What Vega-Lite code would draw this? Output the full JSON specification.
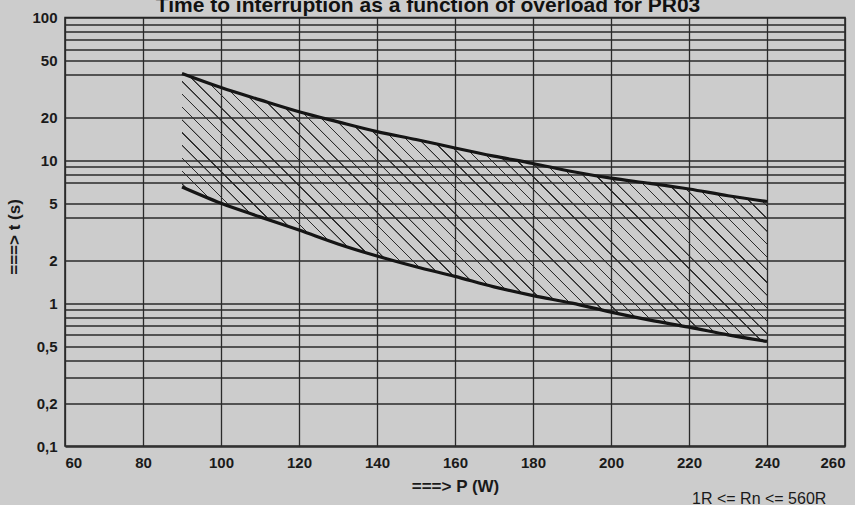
{
  "$schema": "https://vega.github.io/schema/vega-lite/v6.json",
  "width": 780,
  "height": 428.5,
  "autosize": {"type": "none"},
  "padding": {"left": 65, "top": 17.5, "right": 10, "bottom": 59},
  "background": "#cccccc",
  "title": {
    "text": "Time to interruption as a function of overload for PR03",
    "font": "Liberation Sans",
    "fontSize": 21,
    "fontWeight": "bold",
    "color": "#111111",
    "anchor": "middle",
    "frame": "group",
    "dx": -27,
    "dy": 5,
    "offset": 0
  },
  "config": {
    "view": {"stroke": "#1e1e1e", "strokeWidth": 1.5},
    "axis": {
      "domain": false,
      "ticks": false,
      "grid": true,
      "gridColor": "#2a2a2a",
      "gridWidth": 1.3,
      "gridOpacity": 1,
      "labelFont": "Liberation Sans",
      "labelFontSize": 15,
      "labelFontWeight": "bold",
      "labelColor": "#1a1a1a",
      "titleFont": "Liberation Sans",
      "titleFontSize": 17,
      "titleFontWeight": "bold",
      "titleColor": "#1a1a1a"
    }
  },
  "data": {
    "values": [
      {"P": 90, "upper": 40.5, "lower": 6.5},
      {"P": 100, "upper": 32.3, "lower": 5.0},
      {"P": 110, "upper": 26.5, "lower": 4.02},
      {"P": 120, "upper": 21.9, "lower": 3.25},
      {"P": 130, "upper": 18.6, "lower": 2.6},
      {"P": 140, "upper": 15.9, "lower": 2.14},
      {"P": 150, "upper": 14.0, "lower": 1.8},
      {"P": 160, "upper": 12.2, "lower": 1.54},
      {"P": 170, "upper": 10.7, "lower": 1.3},
      {"P": 180, "upper": 9.5, "lower": 1.13},
      {"P": 190, "upper": 8.35, "lower": 1.0},
      {"P": 200, "upper": 7.5, "lower": 0.865},
      {"P": 210, "upper": 6.9, "lower": 0.76},
      {"P": 220, "upper": 6.3, "lower": 0.68},
      {"P": 230, "upper": 5.65, "lower": 0.6},
      {"P": 240, "upper": 5.15, "lower": 0.54}
    ]
  },
  "layer": [
    {
      "encoding": {
        "x": {
          "field": "P", "type": "quantitative",
          "scale": {"domain": [60, 260], "nice": false, "zero": false},
          "axis": {
            "title": "===> P (W)",
            "values": [60,70,80,90,100,110,120,130,140,150,160,170,180,190,200,210,220,230,240,250,260],
            "labelExpr": "datum.value % 20 == 0 ? '' + datum.value : ''",
            "labelPadding": 9,
            "titlePadding": 8
          }
        },
        "y": {
          "field": "upper", "type": "quantitative",
          "scale": {"type": "log", "domain": [0.1, 100], "nice": false},
          "axis": {
            "title": "===> t (s)",
            "values": [0.1,0.2,0.3,0.4,0.5,0.6,0.7,0.8,0.9,1,2,4,5,7,8,9,10,20,40,50,60,70,80,90,100],
            "labelExpr": "datum.value == 0.1 ? '0,1' : datum.value == 0.2 ? '0,2' : datum.value == 0.5 ? '0,5' : (datum.value == 1 || datum.value == 2 || datum.value == 5 || datum.value == 10 || datum.value == 20 || datum.value == 50 || datum.value == 100) ? '' + datum.value : ''",
            "labelPadding": 8,
            "titlePadding": 8,
            "titleY": 219
          }
        }
      },
      "layer": [
        {
          "mark": {
            "type": "area",
            "interpolate": "monotone",
            "fill": {
              "gradient": "linear",
              "x1": 0, "y1": 1, "x2": 1.2051, "y2": 0.448,
              "stops": [
                {"offset":0.004,"color":"rgba(43,43,43,0)"},{"offset":0.0044,"color":"#2b2b2b"},{"offset":0.0056,"color":"#2b2b2b"},{"offset":0.006,"color":"rgba(43,43,43,0)"},
                {"offset":0.019,"color":"rgba(43,43,43,0)"},{"offset":0.0194,"color":"#2b2b2b"},{"offset":0.0206,"color":"#2b2b2b"},{"offset":0.021,"color":"rgba(43,43,43,0)"},
                {"offset":0.034,"color":"rgba(43,43,43,0)"},{"offset":0.0344,"color":"#2b2b2b"},{"offset":0.0356,"color":"#2b2b2b"},{"offset":0.036,"color":"rgba(43,43,43,0)"},
                {"offset":0.049,"color":"rgba(43,43,43,0)"},{"offset":0.0494,"color":"#2b2b2b"},{"offset":0.0506,"color":"#2b2b2b"},{"offset":0.051,"color":"rgba(43,43,43,0)"},
                {"offset":0.064,"color":"rgba(43,43,43,0)"},{"offset":0.0644,"color":"#2b2b2b"},{"offset":0.0656,"color":"#2b2b2b"},{"offset":0.066,"color":"rgba(43,43,43,0)"},
                {"offset":0.079,"color":"rgba(43,43,43,0)"},{"offset":0.0794,"color":"#2b2b2b"},{"offset":0.0806,"color":"#2b2b2b"},{"offset":0.081,"color":"rgba(43,43,43,0)"},
                {"offset":0.094,"color":"rgba(43,43,43,0)"},{"offset":0.0944,"color":"#2b2b2b"},{"offset":0.0956,"color":"#2b2b2b"},{"offset":0.096,"color":"rgba(43,43,43,0)"},
                {"offset":0.109,"color":"rgba(43,43,43,0)"},{"offset":0.1094,"color":"#2b2b2b"},{"offset":0.1106,"color":"#2b2b2b"},{"offset":0.111,"color":"rgba(43,43,43,0)"},
                {"offset":0.124,"color":"rgba(43,43,43,0)"},{"offset":0.1244,"color":"#2b2b2b"},{"offset":0.1256,"color":"#2b2b2b"},{"offset":0.126,"color":"rgba(43,43,43,0)"},
                {"offset":0.139,"color":"rgba(43,43,43,0)"},{"offset":0.1394,"color":"#2b2b2b"},{"offset":0.1406,"color":"#2b2b2b"},{"offset":0.141,"color":"rgba(43,43,43,0)"},
                {"offset":0.154,"color":"rgba(43,43,43,0)"},{"offset":0.1544,"color":"#2b2b2b"},{"offset":0.1556,"color":"#2b2b2b"},{"offset":0.156,"color":"rgba(43,43,43,0)"},
                {"offset":0.169,"color":"rgba(43,43,43,0)"},{"offset":0.1694,"color":"#2b2b2b"},{"offset":0.1706,"color":"#2b2b2b"},{"offset":0.171,"color":"rgba(43,43,43,0)"},
                {"offset":0.184,"color":"rgba(43,43,43,0)"},{"offset":0.1844,"color":"#2b2b2b"},{"offset":0.1856,"color":"#2b2b2b"},{"offset":0.186,"color":"rgba(43,43,43,0)"},
                {"offset":0.199,"color":"rgba(43,43,43,0)"},{"offset":0.1994,"color":"#2b2b2b"},{"offset":0.2006,"color":"#2b2b2b"},{"offset":0.201,"color":"rgba(43,43,43,0)"},
                {"offset":0.214,"color":"rgba(43,43,43,0)"},{"offset":0.2144,"color":"#2b2b2b"},{"offset":0.2156,"color":"#2b2b2b"},{"offset":0.216,"color":"rgba(43,43,43,0)"},
                {"offset":0.229,"color":"rgba(43,43,43,0)"},{"offset":0.2294,"color":"#2b2b2b"},{"offset":0.2306,"color":"#2b2b2b"},{"offset":0.231,"color":"rgba(43,43,43,0)"},
                {"offset":0.244,"color":"rgba(43,43,43,0)"},{"offset":0.2444,"color":"#2b2b2b"},{"offset":0.2456,"color":"#2b2b2b"},{"offset":0.246,"color":"rgba(43,43,43,0)"},
                {"offset":0.259,"color":"rgba(43,43,43,0)"},{"offset":0.2594,"color":"#2b2b2b"},{"offset":0.2606,"color":"#2b2b2b"},{"offset":0.261,"color":"rgba(43,43,43,0)"},
                {"offset":0.274,"color":"rgba(43,43,43,0)"},{"offset":0.2744,"color":"#2b2b2b"},{"offset":0.2756,"color":"#2b2b2b"},{"offset":0.276,"color":"rgba(43,43,43,0)"},
                {"offset":0.289,"color":"rgba(43,43,43,0)"},{"offset":0.2894,"color":"#2b2b2b"},{"offset":0.2906,"color":"#2b2b2b"},{"offset":0.291,"color":"rgba(43,43,43,0)"},
                {"offset":0.304,"color":"rgba(43,43,43,0)"},{"offset":0.3044,"color":"#2b2b2b"},{"offset":0.3056,"color":"#2b2b2b"},{"offset":0.306,"color":"rgba(43,43,43,0)"},
                {"offset":0.319,"color":"rgba(43,43,43,0)"},{"offset":0.3194,"color":"#2b2b2b"},{"offset":0.3206,"color":"#2b2b2b"},{"offset":0.321,"color":"rgba(43,43,43,0)"},
                {"offset":0.334,"color":"rgba(43,43,43,0)"},{"offset":0.3344,"color":"#2b2b2b"},{"offset":0.3356,"color":"#2b2b2b"},{"offset":0.336,"color":"rgba(43,43,43,0)"},
                {"offset":0.349,"color":"rgba(43,43,43,0)"},{"offset":0.3494,"color":"#2b2b2b"},{"offset":0.3506,"color":"#2b2b2b"},{"offset":0.351,"color":"rgba(43,43,43,0)"},
                {"offset":0.364,"color":"rgba(43,43,43,0)"},{"offset":0.3644,"color":"#2b2b2b"},{"offset":0.3656,"color":"#2b2b2b"},{"offset":0.366,"color":"rgba(43,43,43,0)"},
                {"offset":0.379,"color":"rgba(43,43,43,0)"},{"offset":0.3794,"color":"#2b2b2b"},{"offset":0.3806,"color":"#2b2b2b"},{"offset":0.381,"color":"rgba(43,43,43,0)"},
                {"offset":0.394,"color":"rgba(43,43,43,0)"},{"offset":0.3944,"color":"#2b2b2b"},{"offset":0.3956,"color":"#2b2b2b"},{"offset":0.396,"color":"rgba(43,43,43,0)"},
                {"offset":0.409,"color":"rgba(43,43,43,0)"},{"offset":0.4094,"color":"#2b2b2b"},{"offset":0.4106,"color":"#2b2b2b"},{"offset":0.411,"color":"rgba(43,43,43,0)"},
                {"offset":0.424,"color":"rgba(43,43,43,0)"},{"offset":0.4244,"color":"#2b2b2b"},{"offset":0.4256,"color":"#2b2b2b"},{"offset":0.426,"color":"rgba(43,43,43,0)"},
                {"offset":0.439,"color":"rgba(43,43,43,0)"},{"offset":0.4394,"color":"#2b2b2b"},{"offset":0.4406,"color":"#2b2b2b"},{"offset":0.441,"color":"rgba(43,43,43,0)"},
                {"offset":0.454,"color":"rgba(43,43,43,0)"},{"offset":0.4544,"color":"#2b2b2b"},{"offset":0.4556,"color":"#2b2b2b"},{"offset":0.456,"color":"rgba(43,43,43,0)"},
                {"offset":0.469,"color":"rgba(43,43,43,0)"},{"offset":0.4694,"color":"#2b2b2b"},{"offset":0.4706,"color":"#2b2b2b"},{"offset":0.471,"color":"rgba(43,43,43,0)"},
                {"offset":0.484,"color":"rgba(43,43,43,0)"},{"offset":0.4844,"color":"#2b2b2b"},{"offset":0.4856,"color":"#2b2b2b"},{"offset":0.486,"color":"rgba(43,43,43,0)"},
                {"offset":0.499,"color":"rgba(43,43,43,0)"},{"offset":0.4994,"color":"#2b2b2b"},{"offset":0.5006,"color":"#2b2b2b"},{"offset":0.501,"color":"rgba(43,43,43,0)"},
                {"offset":0.514,"color":"rgba(43,43,43,0)"},{"offset":0.5144,"color":"#2b2b2b"},{"offset":0.5156,"color":"#2b2b2b"},{"offset":0.516,"color":"rgba(43,43,43,0)"},
                {"offset":0.529,"color":"rgba(43,43,43,0)"},{"offset":0.5294,"color":"#2b2b2b"},{"offset":0.5306,"color":"#2b2b2b"},{"offset":0.531,"color":"rgba(43,43,43,0)"},
                {"offset":0.544,"color":"rgba(43,43,43,0)"},{"offset":0.5444,"color":"#2b2b2b"},{"offset":0.5456,"color":"#2b2b2b"},{"offset":0.546,"color":"rgba(43,43,43,0)"},
                {"offset":0.559,"color":"rgba(43,43,43,0)"},{"offset":0.5594,"color":"#2b2b2b"},{"offset":0.5606,"color":"#2b2b2b"},{"offset":0.561,"color":"rgba(43,43,43,0)"},
                {"offset":0.574,"color":"rgba(43,43,43,0)"},{"offset":0.5744,"color":"#2b2b2b"},{"offset":0.5756,"color":"#2b2b2b"},{"offset":0.576,"color":"rgba(43,43,43,0)"},
                {"offset":0.589,"color":"rgba(43,43,43,0)"},{"offset":0.5894,"color":"#2b2b2b"},{"offset":0.5906,"color":"#2b2b2b"},{"offset":0.591,"color":"rgba(43,43,43,0)"},
                {"offset":0.604,"color":"rgba(43,43,43,0)"},{"offset":0.6044,"color":"#2b2b2b"},{"offset":0.6056,"color":"#2b2b2b"},{"offset":0.606,"color":"rgba(43,43,43,0)"},
                {"offset":0.619,"color":"rgba(43,43,43,0)"},{"offset":0.6194,"color":"#2b2b2b"},{"offset":0.6206,"color":"#2b2b2b"},{"offset":0.621,"color":"rgba(43,43,43,0)"},
                {"offset":0.634,"color":"rgba(43,43,43,0)"},{"offset":0.6344,"color":"#2b2b2b"},{"offset":0.6356,"color":"#2b2b2b"},{"offset":0.636,"color":"rgba(43,43,43,0)"},
                {"offset":0.649,"color":"rgba(43,43,43,0)"},{"offset":0.6494,"color":"#2b2b2b"},{"offset":0.6506,"color":"#2b2b2b"},{"offset":0.651,"color":"rgba(43,43,43,0)"},
                {"offset":0.664,"color":"rgba(43,43,43,0)"},{"offset":0.6644,"color":"#2b2b2b"},{"offset":0.6656,"color":"#2b2b2b"},{"offset":0.666,"color":"rgba(43,43,43,0)"},
                {"offset":0.679,"color":"rgba(43,43,43,0)"},{"offset":0.6794,"color":"#2b2b2b"},{"offset":0.6806,"color":"#2b2b2b"},{"offset":0.681,"color":"rgba(43,43,43,0)"},
                {"offset":0.694,"color":"rgba(43,43,43,0)"},{"offset":0.6944,"color":"#2b2b2b"},{"offset":0.6956,"color":"#2b2b2b"},{"offset":0.696,"color":"rgba(43,43,43,0)"},
                {"offset":0.709,"color":"rgba(43,43,43,0)"},{"offset":0.7094,"color":"#2b2b2b"},{"offset":0.7106,"color":"#2b2b2b"},{"offset":0.711,"color":"rgba(43,43,43,0)"},
                {"offset":0.724,"color":"rgba(43,43,43,0)"},{"offset":0.7244,"color":"#2b2b2b"},{"offset":0.7256,"color":"#2b2b2b"},{"offset":0.726,"color":"rgba(43,43,43,0)"},
                {"offset":0.739,"color":"rgba(43,43,43,0)"},{"offset":0.7394,"color":"#2b2b2b"},{"offset":0.7406,"color":"#2b2b2b"},{"offset":0.741,"color":"rgba(43,43,43,0)"},
                {"offset":0.754,"color":"rgba(43,43,43,0)"},{"offset":0.7544,"color":"#2b2b2b"},{"offset":0.7556,"color":"#2b2b2b"},{"offset":0.756,"color":"rgba(43,43,43,0)"},
                {"offset":0.769,"color":"rgba(43,43,43,0)"},{"offset":0.7694,"color":"#2b2b2b"},{"offset":0.7706,"color":"#2b2b2b"},{"offset":0.771,"color":"rgba(43,43,43,0)"},
                {"offset":0.784,"color":"rgba(43,43,43,0)"},{"offset":0.7844,"color":"#2b2b2b"},{"offset":0.7856,"color":"#2b2b2b"},{"offset":0.786,"color":"rgba(43,43,43,0)"},
                {"offset":0.799,"color":"rgba(43,43,43,0)"},{"offset":0.7994,"color":"#2b2b2b"},{"offset":0.8006,"color":"#2b2b2b"},{"offset":0.801,"color":"rgba(43,43,43,0)"},
                {"offset":0.814,"color":"rgba(43,43,43,0)"},{"offset":0.8144,"color":"#2b2b2b"},{"offset":0.8156,"color":"#2b2b2b"},{"offset":0.816,"color":"rgba(43,43,43,0)"},
                {"offset":0.829,"color":"rgba(43,43,43,0)"},{"offset":0.8294,"color":"#2b2b2b"},{"offset":0.8306,"color":"#2b2b2b"},{"offset":0.831,"color":"rgba(43,43,43,0)"},
                {"offset":0.844,"color":"rgba(43,43,43,0)"},{"offset":0.8444,"color":"#2b2b2b"},{"offset":0.8456,"color":"#2b2b2b"},{"offset":0.846,"color":"rgba(43,43,43,0)"},
                {"offset":0.859,"color":"rgba(43,43,43,0)"},{"offset":0.8594,"color":"#2b2b2b"},{"offset":0.8606,"color":"#2b2b2b"},{"offset":0.861,"color":"rgba(43,43,43,0)"},
                {"offset":0.874,"color":"rgba(43,43,43,0)"},{"offset":0.8744,"color":"#2b2b2b"},{"offset":0.8756,"color":"#2b2b2b"},{"offset":0.876,"color":"rgba(43,43,43,0)"},
                {"offset":0.889,"color":"rgba(43,43,43,0)"},{"offset":0.8894,"color":"#2b2b2b"},{"offset":0.8906,"color":"#2b2b2b"},{"offset":0.891,"color":"rgba(43,43,43,0)"},
                {"offset":0.904,"color":"rgba(43,43,43,0)"},{"offset":0.9044,"color":"#2b2b2b"},{"offset":0.9056,"color":"#2b2b2b"},{"offset":0.906,"color":"rgba(43,43,43,0)"},
                {"offset":0.919,"color":"rgba(43,43,43,0)"},{"offset":0.9194,"color":"#2b2b2b"},{"offset":0.9206,"color":"#2b2b2b"},{"offset":0.921,"color":"rgba(43,43,43,0)"},
                {"offset":0.934,"color":"rgba(43,43,43,0)"},{"offset":0.9344,"color":"#2b2b2b"},{"offset":0.9356,"color":"#2b2b2b"},{"offset":0.936,"color":"rgba(43,43,43,0)"},
                {"offset":0.949,"color":"rgba(43,43,43,0)"},{"offset":0.9494,"color":"#2b2b2b"},{"offset":0.9506,"color":"#2b2b2b"},{"offset":0.951,"color":"rgba(43,43,43,0)"},
                {"offset":0.964,"color":"rgba(43,43,43,0)"},{"offset":0.9644,"color":"#2b2b2b"},{"offset":0.9656,"color":"#2b2b2b"},{"offset":0.966,"color":"rgba(43,43,43,0)"},
                {"offset":0.979,"color":"rgba(43,43,43,0)"},{"offset":0.9794,"color":"#2b2b2b"},{"offset":0.9806,"color":"#2b2b2b"},{"offset":0.981,"color":"rgba(43,43,43,0)"},
                {"offset":0.994,"color":"rgba(43,43,43,0)"},{"offset":0.9944,"color":"#2b2b2b"},{"offset":0.9956,"color":"#2b2b2b"},{"offset":0.996,"color":"rgba(43,43,43,0)"}
              ]
            }
          },
          "encoding": {
            "y2": {"field": "lower"}
          }
        },
        {
          "mark": {"type": "line", "interpolate": "monotone", "stroke": "#151515", "strokeWidth": 3.2},
          "encoding": {}
        },
        {
          "mark": {"type": "line", "interpolate": "monotone", "stroke": "#151515", "strokeWidth": 3.2},
          "encoding": {
            "y": {"field": "lower", "type": "quantitative"}
          }
        }
      ]
    },
    {
      "data": {"values": [{"note": "1R <= Rn <= 560R"}]},
      "mark": {"type": "text", "font": "Liberation Sans", "fontSize": 16, "color": "#1a1a1a", "align": "center", "baseline": "middle"},
      "encoding": {
        "text": {"field": "note"},
        "x": {"datum": 238, "type": "quantitative", "scale": {"domain": [60, 260], "nice": false, "zero": false}},
        "y": {"datum": 0.0426, "type": "quantitative", "scale": {"type": "log", "domain": [0.1, 100], "nice": false}}
      }
    }
  ]
}
